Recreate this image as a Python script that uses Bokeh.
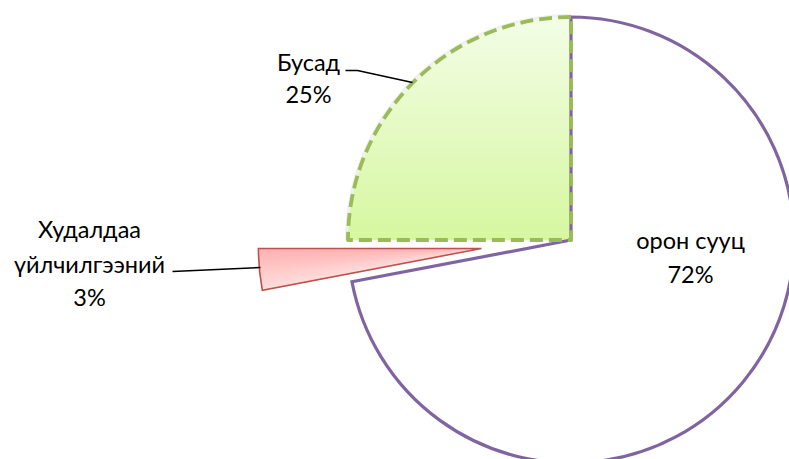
import numpy as np
from bokeh.plotting import figure
from bokeh.models import Range1d
from bokeh.core.properties import value
from bokeh.embed import file_html
from bokeh.resources import INLINE

# ---------------- data ----------------
categories = ["орон сууц", "Худалдаа үйлчилгээний", "Бусад"]
shares = [72, 3, 25]
name_lines = [["орон сууц"], ["Худалдаа", "үйлчилгээний"], ["Бусад"]]
pct_labels = ["72%", "3%", "25%"]

# ---------------- layout / style ----------------
W, H = 789, 459
CX, CY, R = 570.5, -239.5, 223.0          # pie centre (px, y up negative)
explode = [0.0, 90.0, 0.0]
line_colors = ["#8064a2", "#c0504d", "#9bbb59"]
line_widths = [3.2, 1.6, 3.8]
grad_top = {1: (255, 222, 222), 2: (243, 253, 230)}
grad_bot = {1: (255, 176, 176), 2: (214, 247, 160)}
FONT = "Lato"
FSIZE = "23.5px"
TEXT_SHIFT = -10
# label anchors: (centre x, [baseline y per line])
label_pos = [(690, [249.5, 283]), (89, [238, 273, 306]), (308, [71.5, 103.5])]
leaders = [None, ([172, 260], [271, 267]), ([345, 357, 412], [70, 70, 82])]

p = figure(width=W, height=H, x_range=Range1d(0, W),
           y_range=Range1d(-H, 0), output_backend="svg",
           toolbar_location=None, min_border=0, x_axis_type=None,
           y_axis_type=None)
p.grid.visible = False
p.outline_line_color = None
p.background_fill_color = "white"

# slice geometry (clockwise from 12 o'clock, converted to bokeh ccw angles)
total = float(sum(shares))
cw0 = np.cumsum([0] + shares[:-1]) / total * 360.0
cw1 = cw0 + np.array(shares) / total * 360.0
start = np.radians(90.0 - cw1)
end = np.radians(90.0 - cw0)
mid = (start + end) / 2
cxs = CX + np.array(explode) * np.cos(mid)
cys = CY + np.array(explode) * np.sin(mid)


def mix(c0, c1, t):
    return "#%02x%02x%02x" % tuple(int(round(a + (b - a) * t)) for a, b in zip(c0, c1))


# --- green slice (index 2): vertical gradient via bands, then white cover outside arc
i = 2
nb = 60
ys = np.linspace(cys[i], cys[i] + R, nb + 1)
for k in range(nb):
    t = 1 - (k + 0.5) / nb
    p.quad(left=cxs[i] - R - 2, right=cxs[i], bottom=ys[k] - 0.3, top=ys[k + 1] + 0.3,
           fill_color=mix(grad_top[i], grad_bot[i], t), line_color=None)
p.annular_wedge(x=cxs[i], y=cys[i], inner_radius=R, outer_radius=R * 1.6,
                start_angle=start[i] - 0.02, end_angle=end[i] + 0.02,
                fill_color="white", line_color=None)
# soft shadow hint along arc
p.annular_wedge(x=cxs[i], y=cys[i], inner_radius=R, outer_radius=R + 3,
                start_angle=start[i], end_angle=end[i],
                fill_color="#e6e6e6", line_color=None, fill_alpha=0.6)

# --- main slice (index 0): white fill, purple border
i = 0
p.wedge(x=cxs[i], y=cys[i], radius=R, start_angle=start[i], end_angle=end[i],
        fill_color="white", line_color=line_colors[i], line_width=line_widths[i],
        line_join="miter")

# --- green slice outline (dashed)
i = 2
p.wedge(x=cxs[i], y=cys[i], radius=R, start_angle=start[i], end_angle=end[i],
        fill_color=None, line_color=line_colors[i], line_width=line_widths[i],
        line_dash="13 6", line_join="round")

# --- red slice (index 1): gradient by progressively narrower wedges (no seams)
i = 1
ns = 24
angs = np.linspace(start[i], end[i], ns + 1)
for k in range(ns):
    t = (k + 0.5) / ns            # k=0 is lowest angle -> bottom edge
    p.wedge(x=cxs[i], y=cys[i], radius=R, start_angle=angs[k], end_angle=end[i],
            fill_color=mix(grad_bot[i], grad_top[i], t), line_color=None)
p.wedge(x=cxs[i], y=cys[i], radius=R, start_angle=start[i], end_angle=end[i],
        fill_color=None, line_color=line_colors[i], line_width=line_widths[i],
        line_join="miter")

# --- leader lines
for ld in leaders:
    if ld is None:
        continue
    xs, ys_ = ld
    p.line(x=xs, y=[-v for v in ys_], line_color="black", line_width=1.6)

# --- labels
for i in range(len(categories)):
    x0, bases = label_pos[i]
    lines = name_lines[i] + [pct_labels[i]]
    p.text(x=[x0] * len(lines), y=[-(b + TEXT_SHIFT) for b in bases], text=lines,
           text_font=value(FONT), text_font_size=FSIZE, text_color="black",
           text_align="center", text_baseline="alphabetic")

open("out.html", "w").write(file_html(p, INLINE))
